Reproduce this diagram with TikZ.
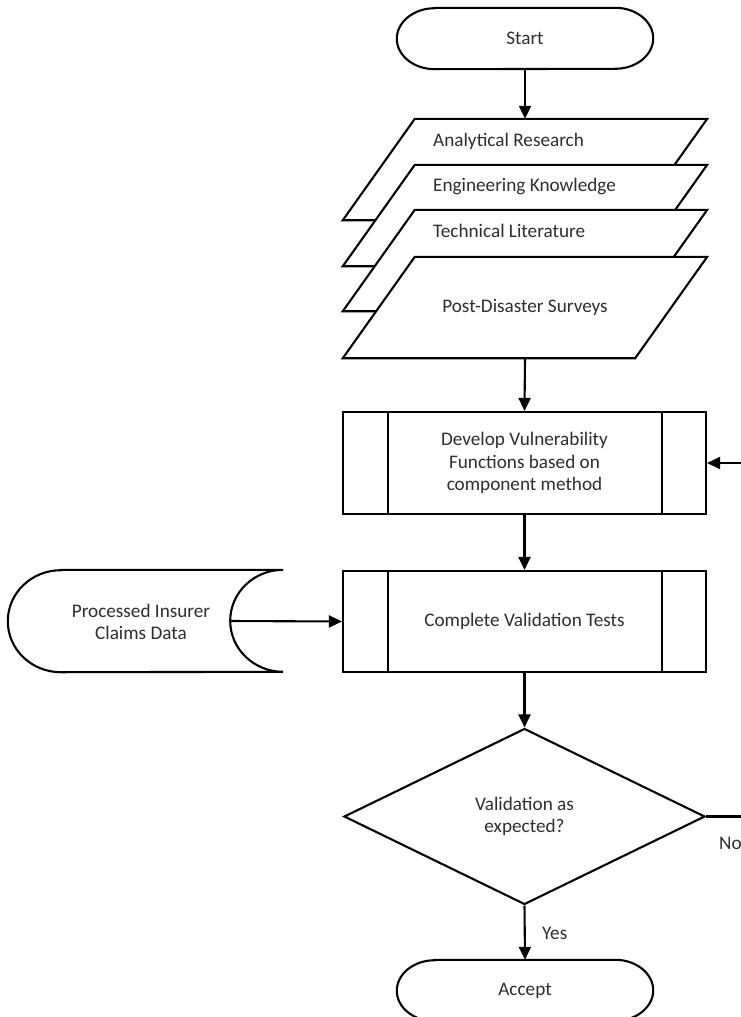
\documentclass[tikz,border=0pt]{standalone}
\usepackage{fontspec}
\setmainfont{Carlito}
\usetikzlibrary{arrows.meta,shapes.geometric}
\definecolor{tx}{HTML}{2E2E2E}
\begin{document}
\begin{tikzpicture}[x=1pt,y=1pt,
  ln/.style={line width=2.1pt, line join=miter},
  arr/.style={ln, -{Triangle[length=13pt,width=12pt]}},
  txt/.style={font=\fontsize{19.2}{22.5}\selectfont, text=tx, align=center, inner sep=0pt},
  ph/.style={inner sep=0pt, minimum width=#1},
  procbox/.style={draw, ln, fill=white, minimum width=363pt, minimum height=102pt, inner sep=0pt, font=\fontsize{19.2}{22.5}\selectfont, text=tx, align=center},
  decision/.style={draw, ln, fill=white, diamond, minimum width=361pt, minimum height=176pt, inner sep=0pt, font=\fontsize{19.2}{22.5}\selectfont, text=tx, align=center}
]
\useasboundingbox (0,0) rectangle (741,-1017);

% ---------- Start terminal ----------
\node[txt, minimum width=256pt, minimum height=61pt] (start) at (525,-38.5) {Start};
\draw[ln] ([xshift=38pt]start.north west) -- ([xshift=-38pt]start.north east)
  arc[start angle=90,end angle=-90,x radius=38pt,y radius=30.5pt]
  -- ([xshift=38pt]start.south west)
  arc[start angle=270,end angle=90,x radius=38pt,y radius=30.5pt] -- cycle;

% ---------- stacked data parallelograms ----------
\node[ph=220pt, minimum height=101pt] (arP) at (525,-169.5) {};
\node[ph=220pt, minimum height=101pt] (ekP) at (525,-215.5) {};
\node[ph=220pt, minimum height=101pt] (tlP) at (525,-260.5) {};
\node[ph=220pt, minimum height=101pt] (pdsP) at (525,-307.5) {};
\foreach \p in {arP,ekP,tlP,pdsP}{
  \draw[ln, fill=white] (\p.north west) -- ([xshift=72pt]\p.north east) -- (\p.south east) -- ([xshift=-72pt]\p.south west) -- cycle;
}
\node[txt, anchor=west] (ar) at (433,-141) {Analytical Research};
\node[txt, anchor=west] (ek) at (433,-186) {Engineering Knowledge};
\node[txt, anchor=west] (tl) at (433,-231) {Technical Literature};
\node[txt] (pds) at (525,-307.5) {Post-Disaster Surveys};

% ---------- process boxes ----------
\node[procbox] (dev) at (524.5,-463) {Develop Vulnerability\\Functions based on\\component method};
\draw[ln] ([xshift=46pt]dev.north west) -- ([xshift=46pt]dev.south west);
\draw[ln] ([xshift=-45pt]dev.north east) -- ([xshift=-45pt]dev.south east);

\node[procbox, minimum height=101pt] (cvt) at (524.5,-621.5) {Complete Validation Tests};
\draw[ln] ([xshift=46pt]cvt.north west) -- ([xshift=46pt]cvt.south west);
\draw[ln] ([xshift=-45pt]cvt.north east) -- ([xshift=-45pt]cvt.south east);

% ---------- stored data ----------
\node[ph=222pt, minimum height=102pt] (clS) at (172,-621) {};
\draw[ln, fill=white] (clS.north west) -- (clS.north east)
  arc[start angle=90,end angle=270,x radius=53pt,y radius=51pt]
  -- (clS.south west)
  arc[start angle=270,end angle=90,x radius=53pt,y radius=51pt] -- cycle;
\node[txt] (claims) at (141,-622) {Processed Insurer\\Claims Data};

% ---------- decision ----------
\node[decision] (dia) at (524.5,-816.5) {Validation as\\expected?};

% ---------- Accept terminal ----------
\node[txt, minimum width=256pt, minimum height=61pt] (acc) at (525,-990.5) {Accept};
\draw[ln] ([xshift=38pt]acc.north west) -- ([xshift=-38pt]acc.north east)
  arc[start angle=90,end angle=-90,x radius=38pt,y radius=30.5pt]
  -- ([xshift=38pt]acc.south west)
  arc[start angle=270,end angle=90,x radius=38pt,y radius=30.5pt] -- cycle;

% ---------- connectors ----------
\coordinate (loopin) at (741,-463);
\coordinate (noend) at (741,-816.5);
\draw[arr] (start.south) -- (arP.north);
\draw[arr] (pdsP.south) -- (dev.north);
\draw[arr] (dev.south) -- (cvt.north);
\draw[arr] ([xshift=-53pt]clS.east) -- (cvt.west);
\draw[arr] (cvt.south) -- (dia.north);
\draw[arr] (dia.south) -- (acc.north);
\draw[arr] (loopin) -- (dev.east);
\draw[ln] (dia.east) -- (noend);

\node[txt, anchor=west] (yes) at (542,-933) {Yes};
\node[txt, anchor=west] (no) at (719,-843) {No};
\end{tikzpicture}
\end{document}
